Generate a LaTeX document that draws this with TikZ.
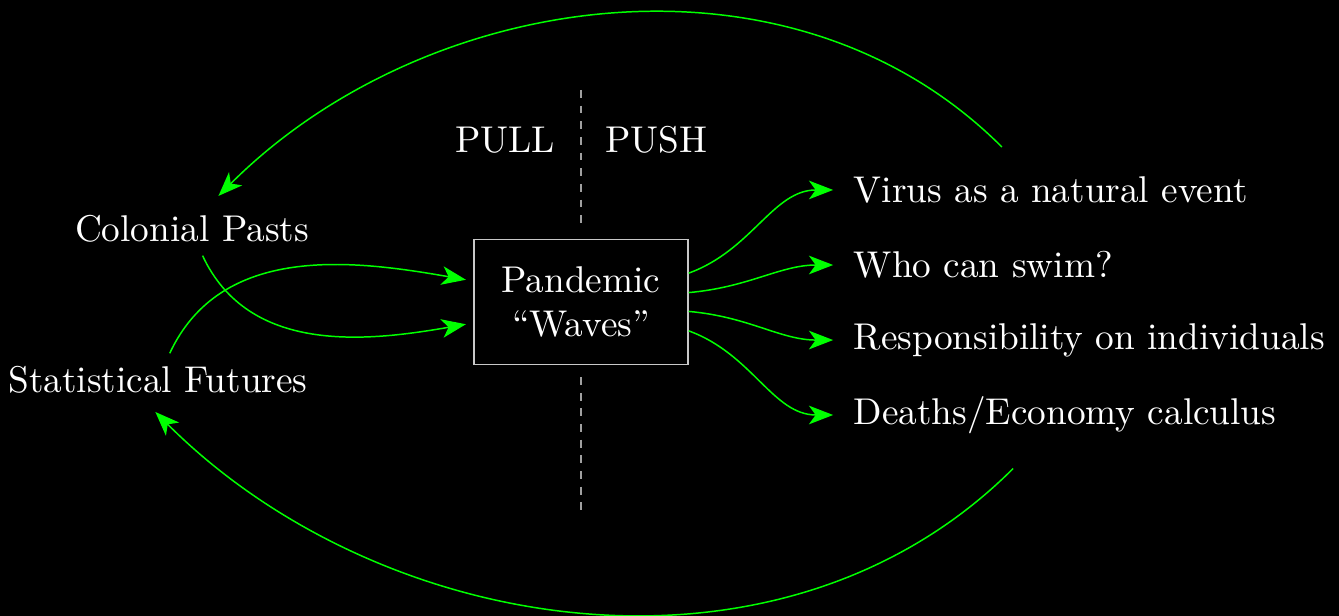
\documentclass[tikz,border=0pt]{standalone}
\usepackage{tikz}
\usetikzlibrary{arrows.meta}
\definecolor{wave}{HTML}{00ff00}
\definecolor{boxgray}{HTML}{c8c8c8}
\definecolor{divgray}{HTML}{a0a0a0}

\begin{document}
\begin{tikzpicture}[
  txt/.style={text=white},
  flow/.style={draw=wave,-{Stealth[length=6.5pt,width=5pt,inset=1.8pt]},shorten >=2pt},
  divider/.style={draw=divgray,dash pattern=on 2.1pt off 2.1pt}]
\fill[black] (0,-5.811) rectangle (12.632,0);
\useasboundingbox (0,-5.811) rectangle (12.632,0);

% pull side
\node[txt] (cp) at (1.811,-2.160) {Colonial Pasts};
\node[txt] (sf) at (1.491,-3.585) {Statistical Futures};

\node[txt,draw=boxgray,minimum width=2.019cm,minimum height=1.179cm,align=center] (box) at (5.481,-2.849) {Pandemic\\``Waves''};

\node[txt] (pull) at (4.764,-1.321) {PULL};
\node[txt] (push) at (6.189,-1.321) {PUSH};

\coordinate (divtop) at (5.481,-0.849);
\coordinate (divbot) at (5.481,-4.858);
\draw[divider,shorten >=3.2pt] (divtop) -- (box.north);
\draw[divider,shorten <=3.2pt] (box.south) -- (divbot);

% push side
\node[txt,anchor=west] (virus) at (7.93,-1.792) {Virus as a natural event};
\node[txt,anchor=west] (swim) at (7.93,-2.500) {Who can swim?};
\node[txt,anchor=west] (resp) at (7.93,-3.208) {Responsibility on individuals};
\node[txt,anchor=west] (calc) at (7.93,-3.915) {Deaths/Economy calculus};

\draw[flow] (box.15) to[out=20,in=180] (virus.west);
\draw[flow] (box.5) to[out=5,in=180] (swim.west);
\draw[flow] (box.-5) to[out=-5,in=180] (resp.west);
\draw[flow] (box.-15) to[out=-20,in=180] (calc.west);

\draw[flow] ([xshift=1mm]cp.south) to[out=-65,in=190] (box.191);
\draw[flow] ([xshift=1.1mm]sf.north) to[out=65,in=170] (box.169);

% feedback loops
\draw[flow] ([xshift=-4.6mm,yshift=1.55mm]virus.north) to[out=135,in=45,looseness=0.97] ([xshift=2mm,yshift=0.1mm]cp.north);
\draw[flow] ([xshift=-4.9mm,yshift=-2.05mm]calc.south) to[out=-135,in=-45,looseness=0.97] ([xshift=-0.75mm]sf.south);

\end{tikzpicture}
\end{document}
